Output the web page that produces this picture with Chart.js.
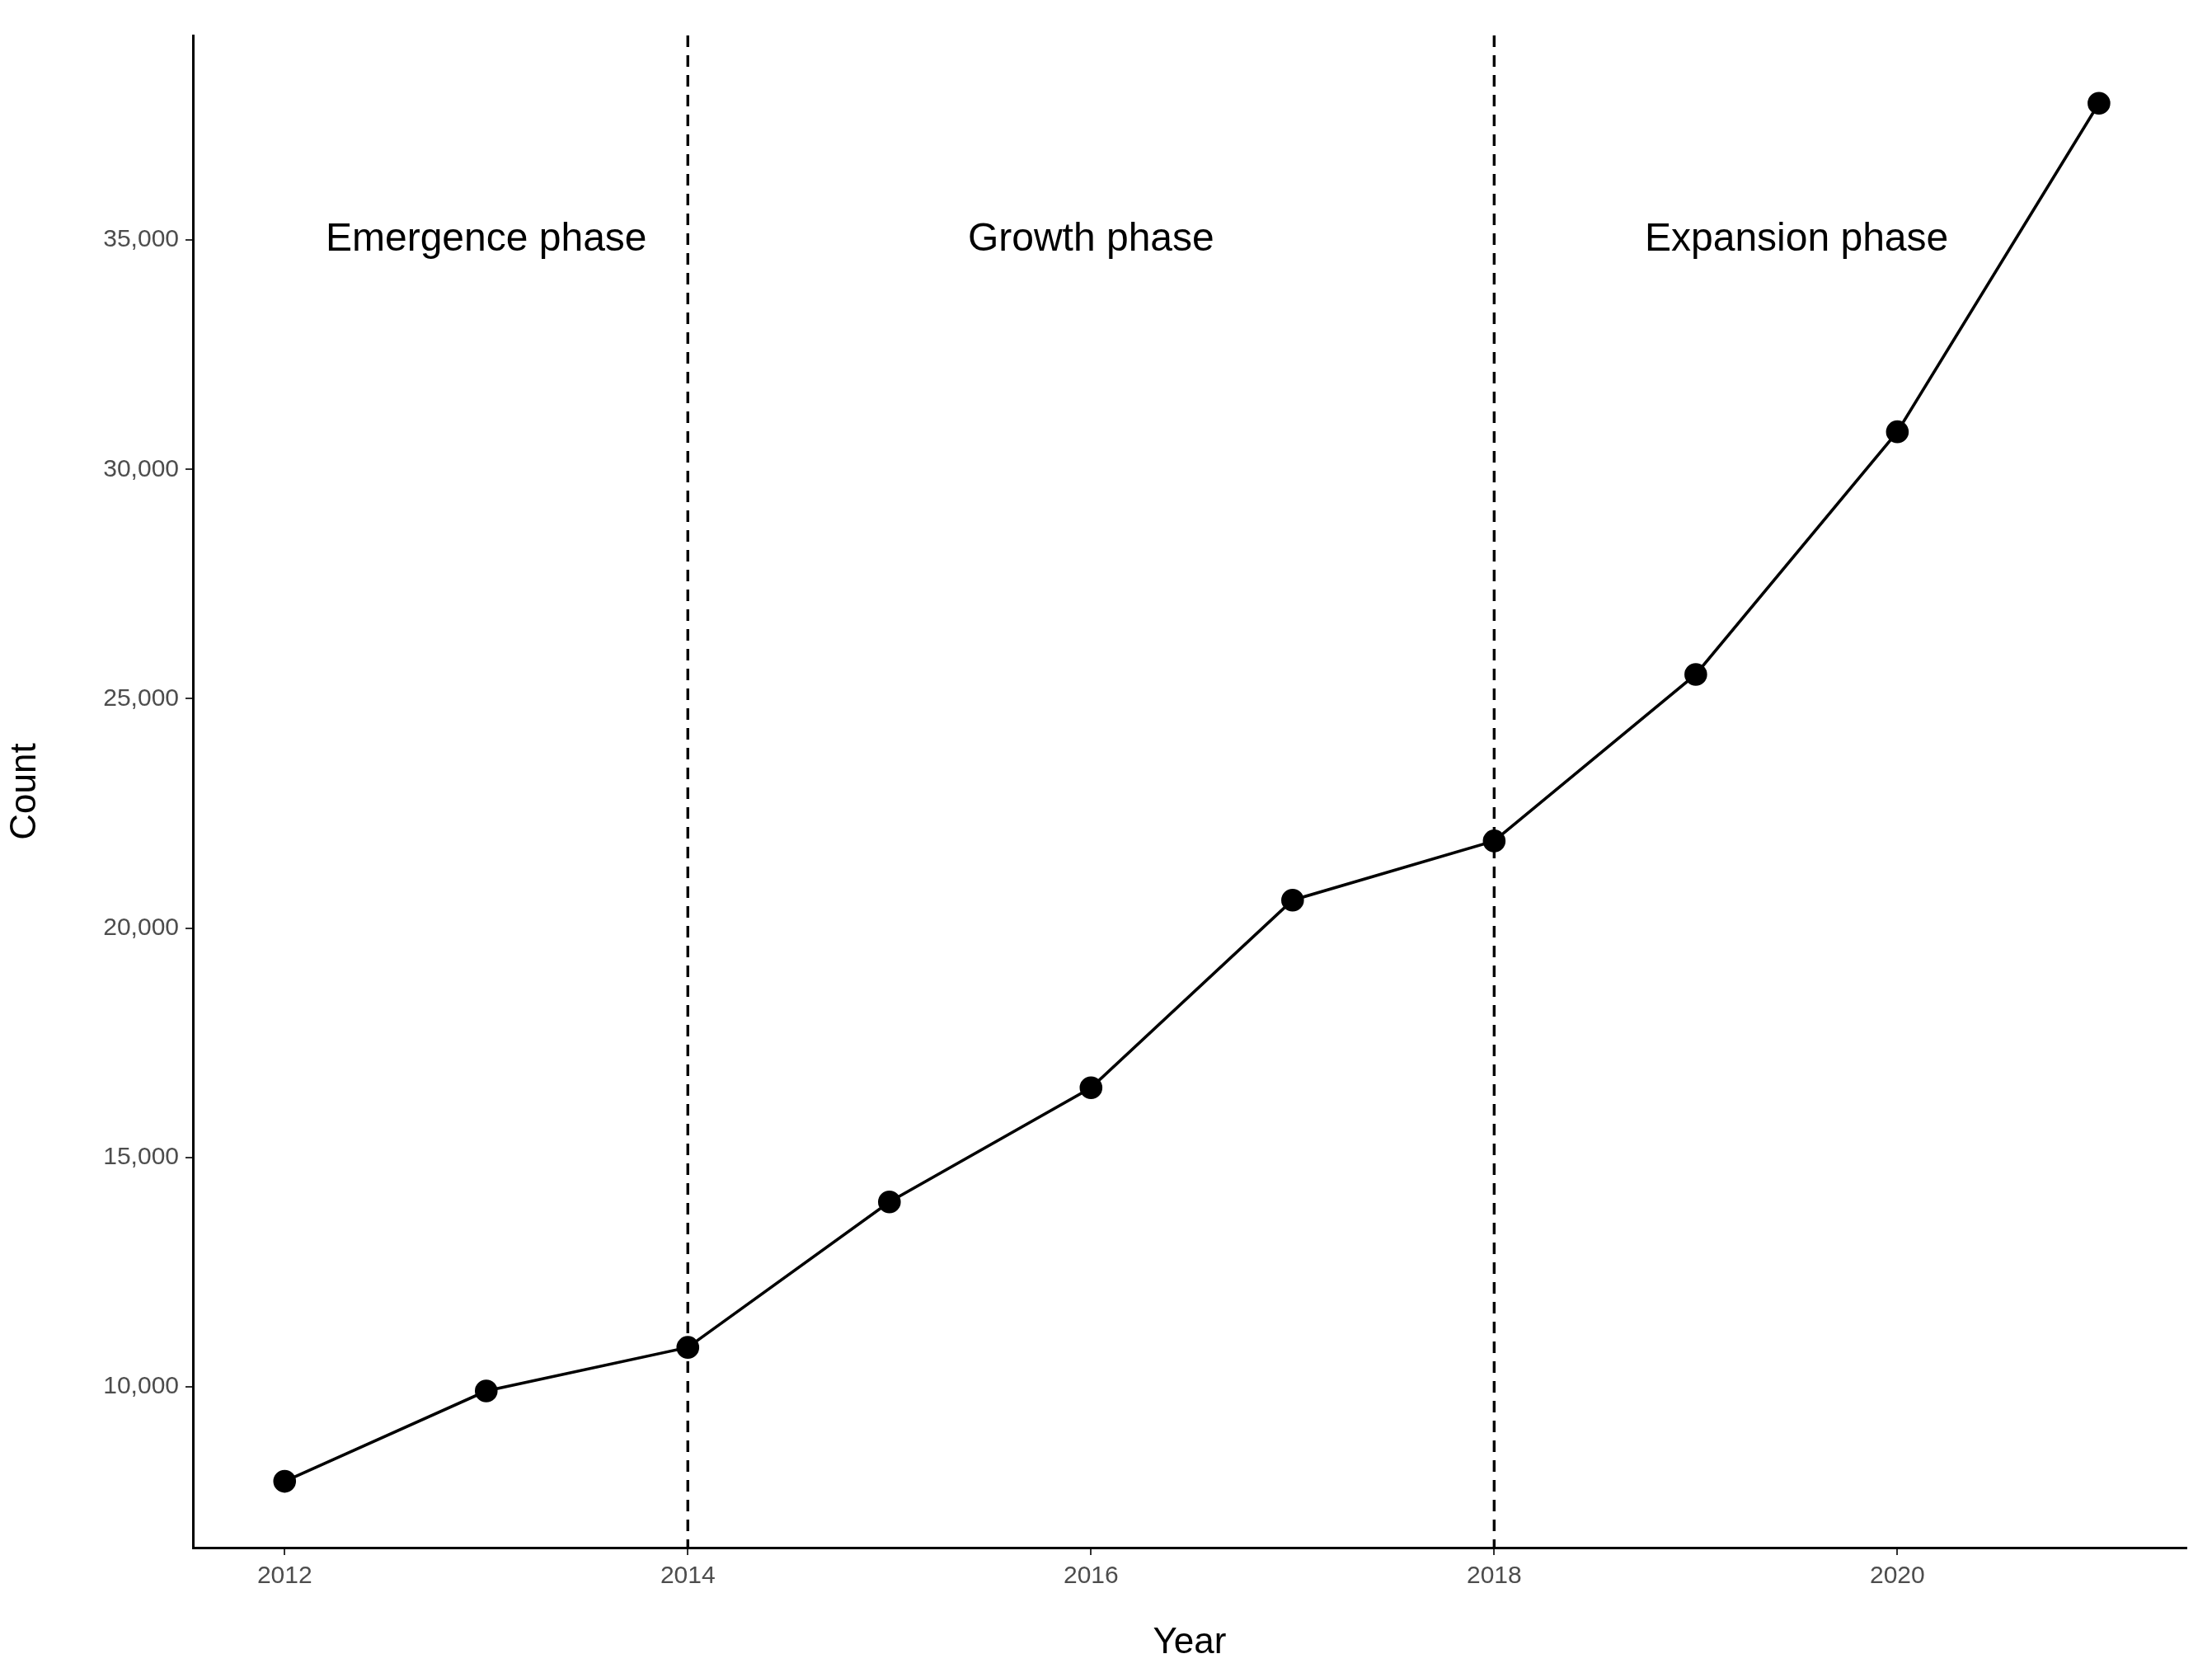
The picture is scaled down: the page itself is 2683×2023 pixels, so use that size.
<!DOCTYPE html>
<html><head><meta charset="utf-8">
<script src="https://cdn.jsdelivr.net/npm/chart.js@4/dist/chart.umd.min.js"></script>
<style>html,body{margin:0;padding:0;background:#fff}#w{width:2683px;height:2023px}</style>
</head><body><div id="w"><canvas id="c"></canvas></div>
<script>
const years=[2012,2013,2014,2015,2016,2017,2018,2019,2020,2021];
const counts=[7940,9910,10860,14030,16520,20610,21900,25530,30820,37980];
const xTicks=[2012,2014,2016,2018,2020];
const yTicks=[10000,15000,20000,25000,30000,35000];
const phaseLines=[2014,2018];
const phaseLabels=["Emergence phase","Growth phase","Expansion phase"];
const phaseLabelX=[2013,2016,2019.5];
const phaseLabelY=35000;
const font='"Liberation Sans", Arial, sans-serif';
const annot={id:'annot',afterDatasetsDraw(ch){
 const {ctx,chartArea:a,scales:{x,y}}=ch;ctx.save();
 ctx.strokeStyle='#000';ctx.lineWidth=3.4;ctx.setLineDash([14,10]);
 phaseLines.forEach(v=>{const px=x.getPixelForValue(v);ctx.beginPath();ctx.moveTo(px,a.top);ctx.lineTo(px,a.bottom);ctx.stroke();});
 ctx.setLineDash([]);ctx.fillStyle='#000';ctx.font='48px '+font;ctx.textAlign='center';ctx.textBaseline='middle';
 phaseLabels.forEach((t,i)=>ctx.fillText(t,x.getPixelForValue(phaseLabelX[i]),y.getPixelForValue(phaseLabelY)));
 ctx.restore();}};
new Chart(document.getElementById('c'),{type:'line',
 data:{datasets:[{data:years.map((v,i)=>({x:v,y:counts[i]})),borderColor:'#000',backgroundColor:'#000',borderWidth:3.6,pointRadius:12,pointHoverRadius:12,tension:0}]},
 options:{responsive:true,maintainAspectRatio:false,animation:false,devicePixelRatio:1,
  layout:{padding:{top:43,right:31,left:0,bottom:0}},
  plugins:{legend:{display:false},tooltip:{enabled:false}},
  scales:{
   x:{type:'linear',min:2011.545,max:2021.434,
    afterBuildTicks(s){s.ticks=xTicks.map(v=>({value:v}));},
    afterFit(s){s.height=146;},
    ticks:{color:'#4d4d4d',font:{size:30,family:font},padding:8,callback:v=>String(v)},
    grid:{display:true,drawOnChartArea:false,drawTicks:true,tickLength:9,color:'#333',lineWidth:2},
    border:{display:true,color:'#000',width:3},
    title:{display:true,text:'Year',color:'#000',font:{size:44,family:font},padding:{top:0}}},
   y:{type:'linear',min:6495,max:39459,
    afterBuildTicks(s){s.ticks=yTicks.map(v=>({value:v}));},
    afterFit(s){s.width=234;},
    ticks:{color:'#4d4d4d',font:{size:30,family:font},padding:8,callback:v=>v.toLocaleString('en-US')},
    grid:{display:true,drawOnChartArea:false,drawTicks:true,tickLength:9,color:'#333',lineWidth:2},
    border:{display:true,color:'#000',width:3},
    title:{display:true,text:'Count',color:'#000',font:{size:44,family:font},padding:{bottom:14}}}}},
 plugins:[annot]});
</script></body></html>
